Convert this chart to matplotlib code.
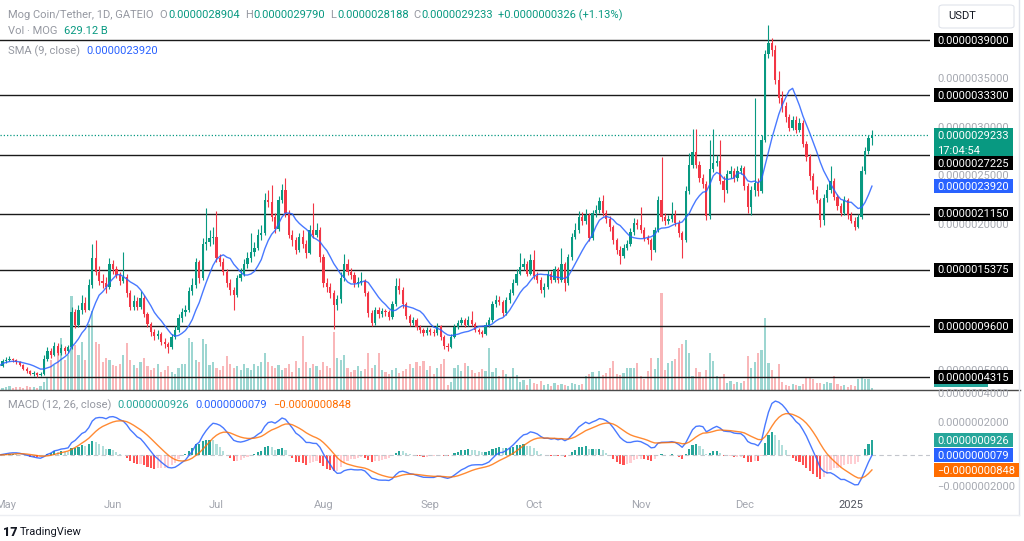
import numpy as np
import pandas as pd
import matplotlib
matplotlib.use("Agg")
import matplotlib.pyplot as plt
from matplotlib.patches import Rectangle, FancyBboxPatch
from matplotlib.lines import Line2D

plt.rcParams['font.family'] = ['Roboto', 'DejaVu Sans']

# ---------------- data (prices in units of 1e-6 USDT) ----------------
start_date = '2024-04-29'
first_open = 0.57
close = [
    0.55, 0.60, 0.61, 0.62, 0.61, 0.59, 0.56, 0.52, 0.50, 0.47, 0.48, 0.46, 0.47, 0.62,
    0.70, 0.66, 0.76, 0.68, 0.73, 0.70, 0.74,
    1.10, 0.97, 1.12, 1.20, 1.13, 1.38, 1.66, 1.52, 1.42,
    1.40, 1.36, 1.60, 1.55, 1.48, 1.42, 1.46, 1.30, 1.16, 1.22, 1.16, 1.25, 1.08,
    0.98, 0.90, 0.86, 0.88, 0.80, 0.78, 0.74, 0.85, 0.92,
    1.04, 1.10, 1.12, 1.32, 1.38, 1.62, 1.45, 1.80, 1.82,
    1.86, 1.88, 1.66, 1.62, 1.52, 1.40, 1.33, 1.28, 1.45, 1.50, 1.60,
    1.66, 1.72, 1.76, 1.90, 1.92, 2.26, 2.23, 2.08, 1.96, 2.26,
    2.36, 2.12, 1.90, 1.84, 1.74, 1.88, 1.80, 1.71,
    1.95, 1.90, 1.95, 1.67, 1.40, 1.36, 1.30,
    1.18,
    1.24, 1.45, 1.60,
    1.52, 1.48, 1.40, 1.41, 1.42, 1.30,
    1.09, 0.99, 1.13, 1.08, 1.11,
    1.10, 1.05, 1.19, 1.37, 1.33, 1.19, 1.06,
    0.99, 1.02, 0.95, 0.92, 0.89,
    0.92, 0.90, 0.885, 0.96, 0.85,
    0.76,
    0.74, 0.85,
    0.95, 0.99, 1.02, 0.97, 1.02, 0.98,
    0.92, 0.90, 0.88, 0.97,
    1.02,
    1.19, 1.23, 1.21, 1.09, 1.23, 1.30, 1.40, 1.50,
    1.57, 1.60, 1.50, 1.64, 1.47, 1.43, 1.33,
    1.36, 1.50, 1.43, 1.55, 1.43, 1.60, 1.40, 1.67, 1.88, 1.95, 2.08, 2.04,
    2.10, 1.86, 2.12, 2.15, 2.25, 2.12, 2.06, 1.98, 1.84, 1.74,
    1.68, 1.76, 1.80, 1.93, 2.02, 2.00, 1.95, 1.86, 1.84, 1.74, 1.95, 2.26,
    2.08,
    2.04, 2.06, 2.10, 2.02, 1.92, 1.84, 2.35, 2.62,
    2.75, 2.62, 2.48, 2.42, 2.09,
    2.57, 2.64, 2.66, 2.45, 2.36,
    2.52, 2.55, 2.48, 2.55, 2.58, 2.40,
    2.18, 2.36, 2.43, 2.35, 2.87,
    3.76,
    3.87, 3.80, 3.49, 3.30, 3.22,
    3.11, 3.00, 3.08, 2.98, 3.05, 2.83,
    2.70, 2.50, 2.36,
    2.26, 2.05, 2.28, 2.36, 2.45,
    2.29,
    2.19, 2.12, 2.26, 2.10, 2.04,
    1.98, 2.08, 2.55, 2.76, 2.8904, 2.9233,
]
high = [
    0.58, 0.62, 0.64, 0.65, 0.63, 0.62, 0.60, 0.57, 0.54, 0.51, 0.50, 0.49, 0.49, 0.66,
    0.74, 0.73, 0.80, 0.79, 0.78, 0.76, 0.77,
    1.16, 1.14, 1.18, 1.28, 1.26, 1.44, 1.80, 1.84, 1.58,
    1.50, 1.46, 1.66, 1.64, 1.58, 1.52, 1.72, 1.50, 1.33, 1.28, 1.26, 1.32, 1.28,
    1.10, 1.00, 0.93, 0.92, 0.90, 0.84, 0.80, 0.88, 0.96,
    1.08, 1.15, 1.18, 1.36, 1.45, 1.66, 1.64, 1.86, 2.17,
    1.95, 1.98, 2.14, 1.70, 1.66, 1.55, 1.44, 1.36, 1.48, 1.56, 1.65,
    1.72, 1.92, 1.82, 1.96, 2.00, 2.33, 2.36, 2.41, 2.12, 2.30,
    2.42, 2.48, 2.15, 1.95, 1.88, 1.92, 1.95, 1.84,
    2.00, 2.22, 2.02, 1.98, 1.70, 1.45, 1.40,
    1.33,
    1.28, 1.52, 1.70,
    1.65, 1.56, 1.52, 1.46, 1.52, 1.44,
    1.32, 1.12, 1.16, 1.16, 1.15,
    1.14, 1.13, 1.22, 1.45, 1.45, 1.36, 1.21,
    1.08, 1.05, 1.04, 0.97, 0.94,
    0.95, 0.94, 0.93, 0.99, 0.97,
    0.87,
    0.79, 0.88,
    0.98, 1.02, 1.05, 1.04, 1.06, 1.11,
    1.00, 0.94, 0.92, 1.00,
    1.05,
    1.22, 1.28, 1.27, 1.23, 1.26, 1.34, 1.44, 1.55,
    1.71, 1.66, 1.63, 1.70, 1.74, 1.52, 1.46,
    1.40, 1.54, 1.53, 1.58, 1.57, 1.76, 1.62, 1.70, 1.92, 2.02, 2.14, 2.13,
    2.16, 2.12, 2.15, 2.20, 2.29, 2.31, 2.15, 2.09, 2.00, 1.86,
    1.78, 1.80, 1.84, 1.97, 2.07, 2.06, 2.18, 1.98, 1.90, 1.86, 1.98, 2.30,
    2.70,
    2.12, 2.10, 2.24, 2.15, 2.05, 1.94, 2.40, 2.74,
    2.99, 2.99, 2.66, 2.52, 2.45,
    2.87, 2.99, 2.72, 2.87, 2.50,
    2.56, 2.60, 2.58, 2.60, 2.62, 2.60,
    2.43, 2.40, 3.30, 2.48, 2.92,
    3.80,
    4.05, 3.92, 3.85, 3.58, 3.38,
    3.26, 3.14, 3.12, 3.12, 3.10, 3.08,
    2.86, 2.73, 2.53,
    2.40, 2.28, 2.32, 2.42, 2.61,
    2.48,
    2.32, 2.22, 2.30, 2.28, 2.13,
    2.08, 2.11, 2.60, 2.80, 2.92, 2.979,
]
low = [
    0.54, 0.54, 0.58, 0.60, 0.59, 0.57, 0.55, 0.51, 0.48, 0.46, 0.45, 0.44, 0.45, 0.46,
    0.60, 0.63, 0.65, 0.66, 0.66, 0.67, 0.68,
    0.72, 0.94, 0.95, 1.08, 1.10, 1.12, 1.35, 1.48, 1.38,
    1.35, 1.30, 1.34, 1.50, 1.45, 1.38, 1.40, 1.26, 1.12, 1.13, 1.12, 1.14, 1.05,
    0.95, 0.86, 0.82, 0.83, 0.77, 0.73, 0.68, 0.72, 0.83,
    0.90, 1.00, 1.06, 1.10, 1.28, 1.35, 1.40, 1.43, 1.74,
    1.78, 1.80, 1.62, 1.58, 1.48, 1.36, 1.28, 1.12, 1.26, 1.42, 1.47,
    1.56, 1.62, 1.68, 1.74, 1.84, 1.90, 2.18, 2.04, 1.92, 1.94,
    2.22, 2.08, 1.86, 1.78, 1.70, 1.72, 1.76, 1.66,
    1.70, 1.86, 1.88, 1.62, 1.36, 1.31, 1.25,
    0.93,
    1.12, 1.20, 1.42,
    1.48, 1.44, 1.36, 1.36, 1.38, 1.27,
    1.05, 0.96, 0.97, 1.04, 1.05,
    1.06, 1.02, 1.03, 1.17, 1.29, 1.15, 1.03,
    0.96, 0.97, 0.92, 0.89, 0.86,
    0.87, 0.87, 0.86, 0.87, 0.82,
    0.72,
    0.70, 0.73,
    0.84, 0.93, 0.97, 0.95, 0.96, 0.96,
    0.90, 0.88, 0.85, 0.87,
    0.95,
    1.00, 1.16, 1.18, 1.06, 1.07, 1.20, 1.28, 1.38,
    1.48, 1.54, 1.47, 1.48, 1.44, 1.40, 1.30,
    1.26, 1.34, 1.40, 1.41, 1.40, 1.41, 1.32, 1.38, 1.64, 1.85, 1.92, 2.00,
    2.01, 1.83, 1.84, 2.08, 2.12, 2.09, 2.02, 1.94, 1.80, 1.70,
    1.60, 1.66, 1.74, 1.78, 1.90, 1.96, 1.92, 1.83, 1.80, 1.64, 1.72, 1.93,
    2.04,
    2.00, 2.01, 2.03, 1.99, 1.88, 1.66, 1.82, 2.32,
    2.58, 2.58, 2.44, 2.38, 2.05,
    2.06, 2.54, 2.60, 2.42, 2.24,
    2.33, 2.48, 2.44, 2.45, 2.52, 2.36,
    2.12, 2.10, 2.30, 2.30, 2.33,
    2.85,
    3.72, 3.74, 3.45, 3.25, 3.16,
    3.06, 2.96, 2.98, 2.94, 2.95, 2.80,
    2.66, 2.46, 2.32,
    2.22, 1.98, 2.00, 2.24, 2.33,
    2.26,
    2.15, 2.09, 2.10, 2.06, 2.02,
    1.95, 1.97, 2.06, 2.52, 2.73, 2.8188,
]
# relative volume (bar height)
volume = [
    3, 2, 3, 4, 2, 3, 3, 2, 4, 3, 3, 2, 4, 8,
    12, 30, 25, 40, 52, 30, 35,
    94, 45, 35, 48, 30, 66, 79, 48, 46,
    28, 32, 30, 25, 24, 26, 35, 47, 30, 25, 22, 28, 32,
    24, 20, 22, 26, 18, 20, 24, 18, 16,
    22, 26, 26, 52, 48, 30, 28, 51, 46,
    25, 28, 22, 20, 24, 34, 26, 22, 24, 20, 26,
    22, 20, 26, 24, 28, 37, 28, 24, 22, 25,
    20, 22, 26, 18, 29, 22, 54, 28,
    22, 26, 24, 20, 28, 24, 22,
    58,
    32, 30, 35,
    22, 18, 20, 24, 19, 21,
    37, 22, 25, 37, 20,
    18, 16, 20, 22, 17, 19, 21,
    26, 22, 28, 24, 29,
    20, 24, 16, 22, 26,
    31,
    5, 8,
    22, 25, 19, 27, 24, 20,
    17, 18, 21, 19,
    42,
    18, 22, 14, 20, 16, 12, 22, 15,
    8, 10, 5, 11, 7, 6, 9,
    5, 6, 4, 7, 5, 6, 5, 4, 7, 6, 5, 6,
    14, 16, 18, 12, 19, 15, 17, 22, 29, 16,
    15, 17, 22, 22, 22, 27, 14, 11, 19, 32, 21, 32,
    97,
    20, 27, 29, 31, 42, 46, 50, 37,
    14, 22, 18, 12, 20,
    37, 29, 14, 12, 16,
    7, 9, 6, 8, 7, 9,
    34, 22, 28, 37, 40,
    72,
    27, 20, 12, 26, 8,
    5, 4, 6, 5, 4, 6,
    12, 13, 11,
    7, 7, 6, 8, 7,
    14,
    6, 4, 5, 3, 5,
    4, 11, 12, 11, 11, 2,
]
levels = [3.9, 3.33, 2.7225, 2.115, 1.5375, 0.96, 0.4315]
# price-scale labels that are not hidden behind the level labels
price_ticks = [3.5, 3.0, 2.5, 2.0, 0.5]
macd_ticks = [0.4, 0.2, -0.2]
month_starts = ['2024-05-01', '2024-06-01', '2024-07-01', '2024-08-01', '2024-09-01',
                '2024-10-01', '2024-11-01', '2024-12-01', '2025-01-01']
month_labels = ['May', 'Jun', 'Jul', 'Aug', 'Sep', 'Oct', 'Nov', 'Dec', '2025']
legend_ohlc = [('O', '0.0000028904'), ('H', '0.0000029790'), ('L', '0.0000028188'),
               ('C', '0.0000029233')]
legend_change = '+0.0000000326 (+1.13%)'
legend_vol = '629.12 B'
legend_sma = '0.0000023920'
legend_macd = ['0.0000000926', '0.0000000079', '\u22120.0000000848']
countdown = '17:04:54'

assert len(close) == len(high) == len(low) == len(volume)

UNIT = 1e-6
close = np.array(close)
high = np.array(high)
low = np.array(low)
volume = np.array(volume, dtype=float)
opn = np.concatenate([[first_open], close[:-1]])
dates = pd.date_range(start_date, periods=len(close), freq='D')
ref = pd.Timestamp('2024-05-01')
x = np.array([(d - ref).days for d in dates], dtype=float)

s = pd.Series(close)
sma9 = s.rolling(9, min_periods=1).mean().values
ema12 = s.ewm(span=12, adjust=False).mean()
ema26 = s.ewm(span=26, adjust=False).mean()
macd = (ema12 - ema26)
signal = macd.ewm(span=9, adjust=False).mean()
hist = (macd - signal).values
macd = macd.values
signal = signal.values

# ---------------- styling ----------------
UP = '#089981'
DN = '#f23645'
UP_V = (0.15, 0.65, 0.60, 0.45)
DN_V = (0.95, 0.33, 0.35, 0.42)
GREY = '#9598a1'
AXGREY = '#a6a9b1'

W, H = 1024, 541
fig = plt.figure(figsize=(W / 100, H / 100), dpi=100)
fig.patch.set_facecolor('white')


def fx(px):
    return px / W


def fy(py):
    return 1 - py / H


PANE_R = 930
MAIN_B = 390
MACD_T, MACD_B = 391, 495
PX_PER_DAY = 3.45
X0_PX = 6
xlim = (-X0_PX / PX_PER_DAY, (PANE_R - X0_PX) / PX_PER_DAY)

ax_vol = fig.add_axes([0, fy(MAIN_B), fx(PANE_R), MAIN_B / H])
ax = fig.add_axes([0, fy(MAIN_B), fx(PANE_R), MAIN_B / H])
ax_m = fig.add_axes([0, fy(MACD_B), fx(PANE_R), (MACD_B - MACD_T) / H])
ax_vol.set_zorder(1)
ax.set_zorder(2)
ax_m.set_zorder(2)
for a in (ax_vol, ax, ax_m):
    a.set_xlim(*xlim)
    a.axis('off')
    a.patch.set_alpha(0)


# price scale: 3.9 at y=40px, 97.3 px per 1e-6
def price_at(py):
    return 3.9 - (py - 40) / 97.3


ax.set_ylim(price_at(MAIN_B), price_at(0))
ax_vol.set_ylim(0, MAIN_B)
ax_m.set_ylim(-0.25, 0.40)

# volume
vcol = [UP_V if u else DN_V for u in (close >= opn)]
ax_vol.bar(x, volume, width=0.62, color=vcol, linewidth=0)

# candles
col = np.where(close >= opn, UP, DN)
ax.vlines(x, low, high, colors=col, lw=0.8, zorder=3)
body = np.maximum(np.abs(close - opn), 0.008)
ax.bar(x, body, bottom=np.minimum(opn, close), width=0.64, color=col, linewidth=0, zorder=4)

# SMA
ax.plot(x, sma9, color='#2962ff', lw=1.0, zorder=5, alpha=0.85)

# horizontal levels
for lv in levels:
    ax.axhline(lv, color='#1a1a1a', lw=1.0, zorder=2)
ax.axhline(close[-1], color=UP, lw=0.9, ls=(0, (1, 1.6)), zorder=2)

# MACD pane
hcols = []
for i, h in enumerate(hist):
    prev = hist[i - 1] if i > 0 else 0
    if h >= 0:
        hcols.append('#26a69a' if h >= prev else '#b2dfdb')
    else:
        hcols.append('#ffcdd2' if h >= prev else '#ff5252')
ax_m.bar(x, hist, width=0.62, color=hcols, linewidth=0)
ax_m.axhline(0, color='#c3c6cc', lw=0.8, ls=(0, (4, 3)))
ax_m.plot(x, macd, color='#2962ff', lw=1.0, alpha=0.85)
ax_m.plot(x, signal, color='#ff6d00', lw=1.0, alpha=0.8)

# separator & borders
fig.add_artist(Line2D([0, fx(1020)], [fy(390), fy(390)], color='#4a4a4a', lw=1.0, zorder=6))
fig.add_artist(Line2D([fx(1019), fx(1019)], [fy(0), fy(515)], color='#e0e3eb', lw=1.0, zorder=6))
fig.add_artist(Line2D([0, fx(1019)], [fy(515), fy(515)], color='#eceef2', lw=1.0, zorder=6))

fig.canvas.draw()
renderer = fig.canvas.get_renderer()


def data_py(a, v):
    return H - a.transData.transform((0, v))[1]


def grey_label(py, txt):
    fig.text(fx(937), fy(py), txt, color=AXGREY, fontsize=8, va='center', ha='left', zorder=8)


def box_label(py, txt, fc, width=79, h=14, z=10, tc='white'):
    fig.add_artist(Rectangle((fx(934), fy(py + h / 2)), width / W, h / H,
                             transform=fig.transFigure, fc=fc, ec='none', zorder=z))
    fig.text(fx(937), fy(py + 0.5), txt, color=tc, fontsize=8, va='center', ha='left', zorder=z + 1)


for pt in price_ticks:
    grey_label(data_py(ax, pt), f"{pt * UNIT:.10f}")
for mt in macd_ticks:
    py = data_py(ax_m, mt)
    grey_label(py + (3 if mt == 0.4 else 0), f"{mt * UNIT:.10f}".replace('-', '\u2212'))

# volume label remnant (teal, behind the lowest level box)
vol_py = data_py(ax, levels[-1])
fig.add_artist(Rectangle((fx(934), fy(vol_py + 9.5)), 54 / W, 16 / H,
                         transform=fig.transFigure, fc='#26a69a', ec='none', zorder=9))

# current price box (two lines)
cp_py = data_py(ax, close[-1])
fig.add_artist(Rectangle((fx(934), fy(cp_py + 26)), 79 / W, 33.5 / H,
                         transform=fig.transFigure, fc=UP, ec='none', zorder=10))
fig.text(fx(937), fy(cp_py + 0.5), f"{close[-1] * UNIT:.10f}", color='white', fontsize=8,
         va='center', zorder=11)
fig.text(fx(937), fy(cp_py + 15.5), countdown, color='white', fontsize=8, va='center', zorder=11)

for lv in levels:
    py = data_py(ax, lv)
    if abs(lv - 2.7225) < 1e-9:
        py = cp_py + 28  # pushed below the current-price label
    box_label(py, f"{lv * UNIT:.10f}", '#000000', z=12)
box_label(data_py(ax, sma9[-1]), legend_sma, '#2962ff', z=12)

# MACD value boxes (stacked)
m_py = data_py(ax_m, macd[-1])
box_label(m_py - 15, legend_macd[0], '#26a69a', z=12)
box_label(m_py, legend_macd[1], '#2962ff', z=13)
box_label(m_py + 15, legend_macd[2], '#ff6d00', width=85, z=14)

# USDT box
fig.add_artist(FancyBboxPatch((fx(939), fy(28)), 75 / W, 23 / H, boxstyle='round,pad=0,rounding_size=0.004',
                              transform=fig.transFigure, fc='white', ec='#e0e3eb', lw=0.8, zorder=10))
fig.text(fx(948), fy(16), 'USDT', color='#131722', fontsize=8, va='center', zorder=11)


# legends
def seq_text(x_px, y_px, pieces, size=8):
    xx = x_px
    for txt, c, gap in pieces:
        t = fig.text(fx(xx), fy(y_px), txt, color=c, fontsize=size, va='center', ha='left', zorder=20)
        bb = t.get_window_extent(renderer=renderer)
        xx += bb.width + gap


pieces = [('Mog Coin/Tether, 1D, GATEIO', GREY, 6)]
for k, v in legend_ohlc:
    pieces += [(k, GREY, 1), (v, UP, 5)]
pieces += [(legend_change, UP, 0)]
seq_text(8, 15, pieces)
seq_text(8, 31, [('Vol \u00b7 MOG', GREY, 6), (legend_vol, UP, 0)])
seq_text(8, 51, [('SMA (9, close)', GREY, 6), (legend_sma, '#2962ff', 0)])
seq_text(8, 405, [('MACD (12, 26, close)', GREY, 6), (legend_macd[0], '#26a69a', 6),
                  (legend_macd[1], '#2962ff', 6), (legend_macd[2], '#ff6d00', 0)])

# month labels
for ms, lab in zip(month_starts, month_labels):
    xd = (pd.Timestamp(ms) - ref).days
    xpx = ax_m.transData.transform((xd, 0))[0]
    fig.text(xpx / W, fy(505), lab, color='#50535e' if lab == '2025' else '#a3a6af',
             fontsize=8, ha='center', va='center', zorder=20)

# TradingView logo
fig.text(fx(3), fy(532), '17', color='#131722', fontsize=9, fontweight='heavy', va='center', zorder=20)
fig.text(fx(20), fy(532), 'TradingView', color='#131722', fontsize=8, va='center', zorder=20)

fig.savefig('out.png', dpi=100, facecolor='white')
